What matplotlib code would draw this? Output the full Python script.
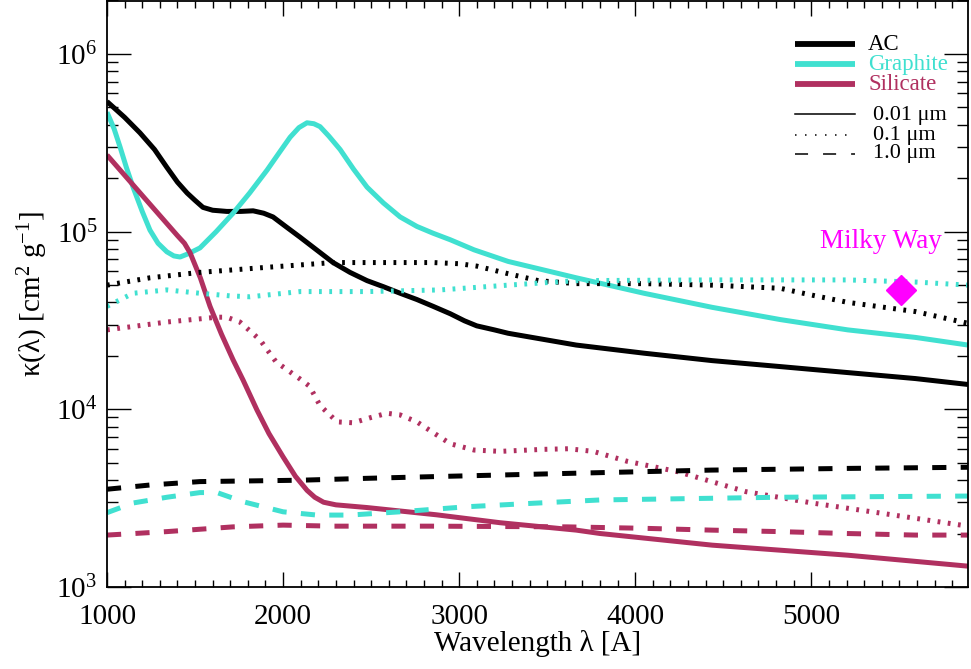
import matplotlib
matplotlib.use("Agg")
import matplotlib.pyplot as plt
from matplotlib.ticker import MultipleLocator, LogLocator, NullFormatter

plt.rcParams["font.family"] = ["Liberation Serif", "DejaVu Serif"]
plt.rcParams["mathtext.fontset"] = "custom"
plt.rcParams["mathtext.rm"] = "Liberation Serif"
plt.rcParams["mathtext.it"] = "Liberation Serif:italic"
plt.rcParams["lines.scale_dashes"] = False

# mass extinction coefficient kappa(lambda) [cm^2 g^-1] vs wavelength [A]
# amorphous carbon
ac_001_wl = [1000, 1100, 1187, 1270, 1340, 1400, 1455, 1500, 1545, 1600, 1680, 1760, 1830, 1890,
             1943, 2020, 2097, 2190, 2284, 2380, 2477, 2570, 2665, 2760, 2852, 2950, 3030, 3100,
             3200, 3278, 3665, 4050, 4437, 4824, 5207, 5591, 5890]
ac_001 = [5.4e5, 4.4e5, 3.6e5, 2.9e5, 2.3e5, 1.9e5, 1.65e5, 1.5e5, 1.37e5, 1.32e5, 1.3e5, 1.3e5,
          1.31e5, 1.27e5, 1.21e5, 1.06e5, 9.3e4, 7.9e4, 6.7e4, 5.9e4, 5.3e4, 4.9e4, 4.5e4, 4.15e4,
          3.8e4, 3.45e4, 3.15e4, 2.95e4, 2.8e4, 2.68e4, 2.3e4, 2.07e4, 1.88e4, 1.74e4, 1.61e4,
          1.49e4, 1.38e4]
ac_01_wl = [1000, 1244, 1528, 1909, 2284, 2600, 2852, 3000, 3100, 3278, 3450, 3665, 4050, 4437,
            4824, 5000, 5207, 5591, 5890]
ac_01 = [5.0e4, 5.5e4, 5.9e4, 6.3e4, 6.7e4, 6.7e4, 6.7e4, 6.6e4, 6.4e4, 5.8e4, 5.3e4, 5.1e4,
         5.1e4, 5.0e4, 4.8e4, 4.4e4, 4.0e4, 3.55e4, 3.05e4]
ac_1_wl = [1000, 1244, 1528, 2097, 2477, 2852, 3662, 4432, 5205, 5890]
ac_1 = [3.55e3, 3.75e3, 3.92e3, 3.99e3, 4.09e3, 4.18e3, 4.37e3, 4.55e3, 4.65e3, 4.72e3]

# graphite
gr_001_wl = [1000, 1040, 1074, 1110, 1148, 1200, 1244, 1290, 1340, 1380, 1415, 1460, 1528, 1620,
             1716, 1810, 1909, 1980, 2040, 2090, 2136, 2175, 2210, 2260, 2324, 2400, 2477, 2570,
             2665, 2760, 2852, 2950, 3085, 3278, 3665, 4050, 4437, 4824, 5207, 5591, 5890]
gr_001 = [4.7e5, 3.8e5, 3.0e5, 2.3e5, 1.78e5, 1.3e5, 1.02e5, 8.6e4, 7.7e4, 7.3e4, 7.2e4, 7.5e4,
          8.1e4, 1.0e5, 1.27e5, 1.65e5, 2.22e5, 2.8e5, 3.4e5, 3.85e5, 4.1e5, 4.05e5, 3.9e5,
          3.45e5, 2.9e5, 2.25e5, 1.78e5, 1.45e5, 1.21e5, 1.07e5, 9.8e4, 9.0e4, 7.9e4, 6.8e4,
          5.5e4, 4.5e4, 3.75e4, 3.2e4, 2.8e4, 2.54e4, 2.3e4]
gr_01_wl = [1000, 1148, 1340, 1528, 1700, 1812, 2097, 2477, 2892, 3278, 3665, 4437, 5207, 5600, 5890]
gr_01 = [3.8e4, 4.5e4, 4.7e4, 4.5e4, 4.35e4, 4.3e4, 4.6e4, 4.6e4, 4.7e4, 5.0e4, 5.3e4, 5.35e4,
         5.35e4, 5.2e4, 5.0e4]
gr_1_wl = [1000, 1148, 1340, 1528, 1625, 1773, 2000, 2193, 2380, 2665, 3045, 3420, 3801, 4818, 5890]
gr_1 = [2.62e3, 2.97e3, 3.2e3, 3.4e3, 3.4e3, 3.02e3, 2.65e3, 2.54e3, 2.54e3, 2.65e3, 2.83e3,
        2.96e3, 3.09e3, 3.2e3, 3.25e3]

# silicate
si_001_wl = [1000, 1200, 1400, 1440, 1472, 1530, 1585, 1650, 1716, 1773, 1852, 1920, 2000, 2070,
             2136, 2180, 2230, 2300, 2477, 2870, 3233, 3665, 3801, 4437, 5207, 5890]
si_001 = [2.7e5, 1.6e5, 9.5e4, 8.6e4, 7.6e4, 5.5e4, 3.8e4, 2.65e4, 1.9e4, 1.46e4, 9.9e3, 7.3e3,
          5.4e3, 4.2e3, 3.5e3, 3.2e3, 3.0e3, 2.9e3, 2.8e3, 2.55e3, 2.3e3, 2.09e3, 2.0e3, 1.72e3,
          1.51e3, 1.31e3]
si_01_wl = [1000, 1340, 1625, 1680, 1755, 1869, 1960, 2097, 2150, 2210, 2307, 2398, 2500, 2591,
            2665, 2760, 2852, 2950, 3085, 3233, 3472, 3620, 3761, 3954, 4244, 4629, 5014, 5400, 5890]
si_01 = [2.8e4, 3.1e4, 3.3e4, 3.3e4, 3.1e4, 2.46e4, 1.85e4, 1.48e4, 1.35e4, 1.05e4, 8.5e3, 8.4e3,
         9.0e3, 9.5e3, 9.3e3, 8.5e3, 7.4e3, 6.4e3, 5.9e3, 5.8e3, 5.95e3, 6.0e3, 5.8e3, 5.1e3,
         4.45e3, 3.44e3, 2.96e3, 2.6e3, 2.2e3]
si_1_wl = [1000, 1340, 1716, 2000, 2284, 2852, 3613, 4046, 4432, 4818, 5205, 5590, 5890]
si_1 = [1.96e3, 2.05e3, 2.18e3, 2.23e3, 2.2e3, 2.2e3, 2.18e3, 2.14e3, 2.09e3, 2.05e3, 2.0e3,
        1.96e3, 1.96e3]

mw_wl = 5510
mw_kappa = 4.7e4

species = ["AC", "Graphite", "Silicate"]
sizes = ["0.01 μm", "0.1 μm", "1.0 μm"]

BLACK = "black"
TURQ = "#40E0D0"
MAROON = "#B03060"
MAGENTA = "#FF00FF"
colors = [BLACK, TURQ, MAROON]

DOT = (0, (2.0, 5.4))
DASH = (0, (10.2, 10.3))
LW = 3.6

fig = plt.figure(figsize=(9.71, 6.69), dpi=100)
ax = fig.add_axes([107 / 971, 82 / 669, 861 / 971, 586.5 / 669])

curves = [
    (ac_001_wl, ac_001, BLACK, "-"), (gr_001_wl, gr_001, TURQ, "-"), (si_001_wl, si_001, MAROON, "-"),
    (ac_01_wl, ac_01, BLACK, DOT), (gr_01_wl, gr_01, TURQ, DOT), (si_01_wl, si_01, MAROON, DOT),
    (ac_1_wl, ac_1, BLACK, DASH), (gr_1_wl, gr_1, TURQ, DASH), (si_1_wl, si_1, MAROON, DASH),
]
for wl, kap, c, ls in curves:
    ax.plot(wl, kap, color=c, ls=ls, lw=LW, solid_capstyle="butt", dash_capstyle="butt",
            solid_joinstyle="round")

ax.plot([mw_wl], [mw_kappa], marker="D", ms=15.5, color=MAGENTA, mec=MAGENTA, ls="none")
ax.text(5395, 8.1e4, "Milky Way", color=MAGENTA, fontsize=19.5, ha="center", va="baseline")

ax.set_yscale("log")
ax.set_xlim(1000, 5890)
ax.set_ylim(1e3, 2e6)

ax.xaxis.set_major_locator(MultipleLocator(1000))
ax.xaxis.set_minor_locator(MultipleLocator(100))
ax.yaxis.set_major_locator(LogLocator(base=10))
ax.yaxis.set_minor_locator(LogLocator(base=10, subs=range(2, 10)))
ax.yaxis.set_minor_formatter(NullFormatter())

ax.tick_params(axis="both", which="both", direction="in", top=True, right=True,
               labelsize=21, width=1.0)
ax.tick_params(axis="x", which="major", length=11, pad=12)
ax.tick_params(axis="x", which="minor", length=5)
ax.tick_params(axis="y", which="major", length=17, pad=7)
ax.tick_params(axis="y", which="minor", length=8)
for sp in ax.spines.values():
    sp.set_linewidth(1.3)

ax.set_xlabel("Wavelength λ [A]", fontsize=21, labelpad=0)
ax.set_ylabel("κ(λ) [cm$^2$ g$^{-1}$]", fontsize=21, labelpad=4)

# legend drawn by hand: species colours on top, grain sizes by line style below
lx0, lx1 = (795 - 107) / 861, (855 - 107) / 861
for name, c, yl, yt in zip(species, colors, [0.925, 0.891, 0.857], [0.915, 0.881, 0.847]):
    ax.plot([lx0, lx1], [yl, yl], transform=ax.transAxes, color=c, lw=4.2, solid_capstyle="butt")
    ax.text((868 - 107) / 861, yt, name, transform=ax.transAxes, color=c, fontsize=16.5,
            va="baseline", ha="left")
for name, ls, yl, yt in zip(sizes, ["-", (0, (1.1, 6.1)), (0, (9.4, 10.8))],
                            [0.806, 0.770, 0.738], [0.796, 0.763, 0.731]):
    ax.plot([lx0, lx1], [yl, yl], transform=ax.transAxes, color=BLACK, lw=1.1, ls=ls,
            dash_capstyle="butt")
    ax.text((873 - 107) / 861, yt, name, transform=ax.transAxes, color=BLACK, fontsize=16,
            va="baseline", ha="left")

fig.savefig("out.png", dpi=100)
